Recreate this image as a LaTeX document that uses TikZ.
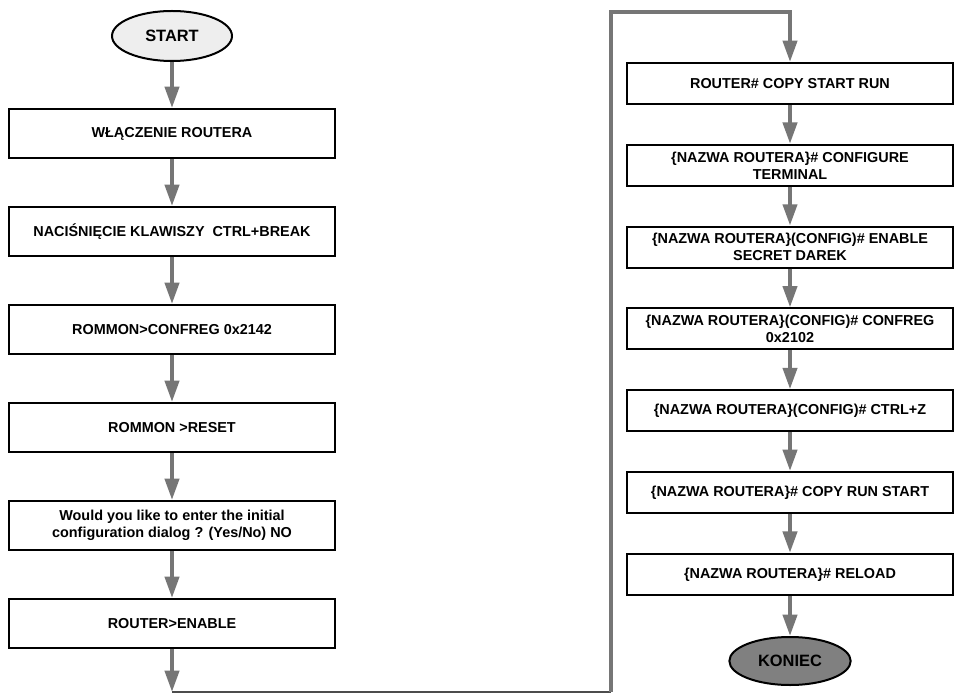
\documentclass[tikz,border=0pt]{standalone}
\usepackage{fontspec}
\setmainfont{Liberation Sans}
\usetikzlibrary{arrows.meta,shapes.geometric}
\definecolor{flowgray}{HTML}{767676}
\definecolor{startfill}{HTML}{EEEEEE}
\definecolor{endfill}{HTML}{808080}
\begin{document}
\begin{tikzpicture}[x=0.75pt,y=-0.75pt,
  font=\fontsize{10.8}{12.75}\selectfont\bfseries,
  stepbox/.style={draw=black,line width=1.5pt,fill=white,minimum width=244.5pt,
    align=center,inner sep=0pt},
  leftbox/.style={stepbox,minimum height=36.75pt},
  rightbox/.style={stepbox,minimum height=30.75pt},
  terminal/.style={ellipse,draw=black,line width=1.5pt,inner sep=0pt,
    font=\fontsize{12.3}{14}\selectfont\bfseries},
  flow/.style={draw=flowgray,line width=3pt,line join=miter,
    -{Triangle[length=16pt,width=10.5pt]}},
  thinline/.style={draw=black!70,line width=0.9pt}]
  \fill[white] (0,0) rectangle (960,695);
  \useasboundingbox (0,0) rectangle (960,695);

  % left column
  \node[terminal,fill=startfill,minimum width=90pt,minimum height=37.5pt] (start) at (172,36) {START};
  \node[leftbox] (b1) at (172,133.5) {WŁĄCZENIE ROUTERA};
  \node[leftbox] (b2) at (172,231.5) {NACIŚNIĘCIE KLAWISZY\ \ CTRL+BREAK};
  \node[leftbox] (b3) at (172,329.5) {ROMMON>CONFREG 0x2142};
  \node[leftbox] (b4) at (172,427.5) {ROMMON >RESET};
  \node[leftbox] (b5) at (172,525.5) {Would you like to enter the initial\\configuration dialog ? (Yes/No) NO};
  \node[leftbox] (b6) at (172,623.5) {ROUTER>ENABLE};

  % right column
  \node[rightbox] (r1) at (790,83.5) {ROUTER\# COPY START RUN};
  \node[rightbox] (r2) at (790,165.3) {\{NAZWA ROUTERA\}\# CONFIGURE\\TERMINAL};
  \node[rightbox] (r3) at (790,247.1) {\{NAZWA ROUTERA\}(CONFIG)\# ENABLE\\SECRET DAREK};
  \node[rightbox] (r4) at (790,328.9) {\{NAZWA ROUTERA\}(CONFIG)\# CONFREG\\0x2102};
  \node[rightbox] (r5) at (790,410.7) {\{NAZWA ROUTERA\}(CONFIG)\# CTRL+Z};
  \node[rightbox] (r6) at (790,492.5) {\{NAZWA ROUTERA\}\# COPY RUN START};
  \node[rightbox] (r7) at (790,574.3) {\{NAZWA ROUTERA\}\# RELOAD};
  \node[terminal,fill=endfill,minimum width=91pt,minimum height=36pt] (koniec) at (790,661) {KONIEC};

  % route joining the two columns
  \coordinate (lowL) at (172,692);
  \coordinate (lowR) at (611,692);
  \coordinate (topL) at (611,12);
  \coordinate (topR) at (790,12);

  % connectors
  \draw[flow] (start) -- (b1);
  \draw[flow] (b1) -- (b2);
  \draw[flow] (b2) -- (b3);
  \draw[flow] (b3) -- (b4);
  \draw[flow] (b4) -- (b5);
  \draw[flow] (b5) -- (b6);
  \draw[flow] (b6) -- (lowL);
  \draw[thinline] (lowL) -- (lowR);
  \draw[flow] (lowR) -- (topL) -- (topR) -- (r1);
  \draw[flow] (r1) -- (r2);
  \draw[flow] (r2) -- (r3);
  \draw[flow] (r3) -- (r4);
  \draw[flow] (r4) -- (r5);
  \draw[flow] (r5) -- (r6);
  \draw[flow] (r6) -- (r7);
  \draw[flow] (r7) -- (koniec);
\end{tikzpicture}
\end{document}
